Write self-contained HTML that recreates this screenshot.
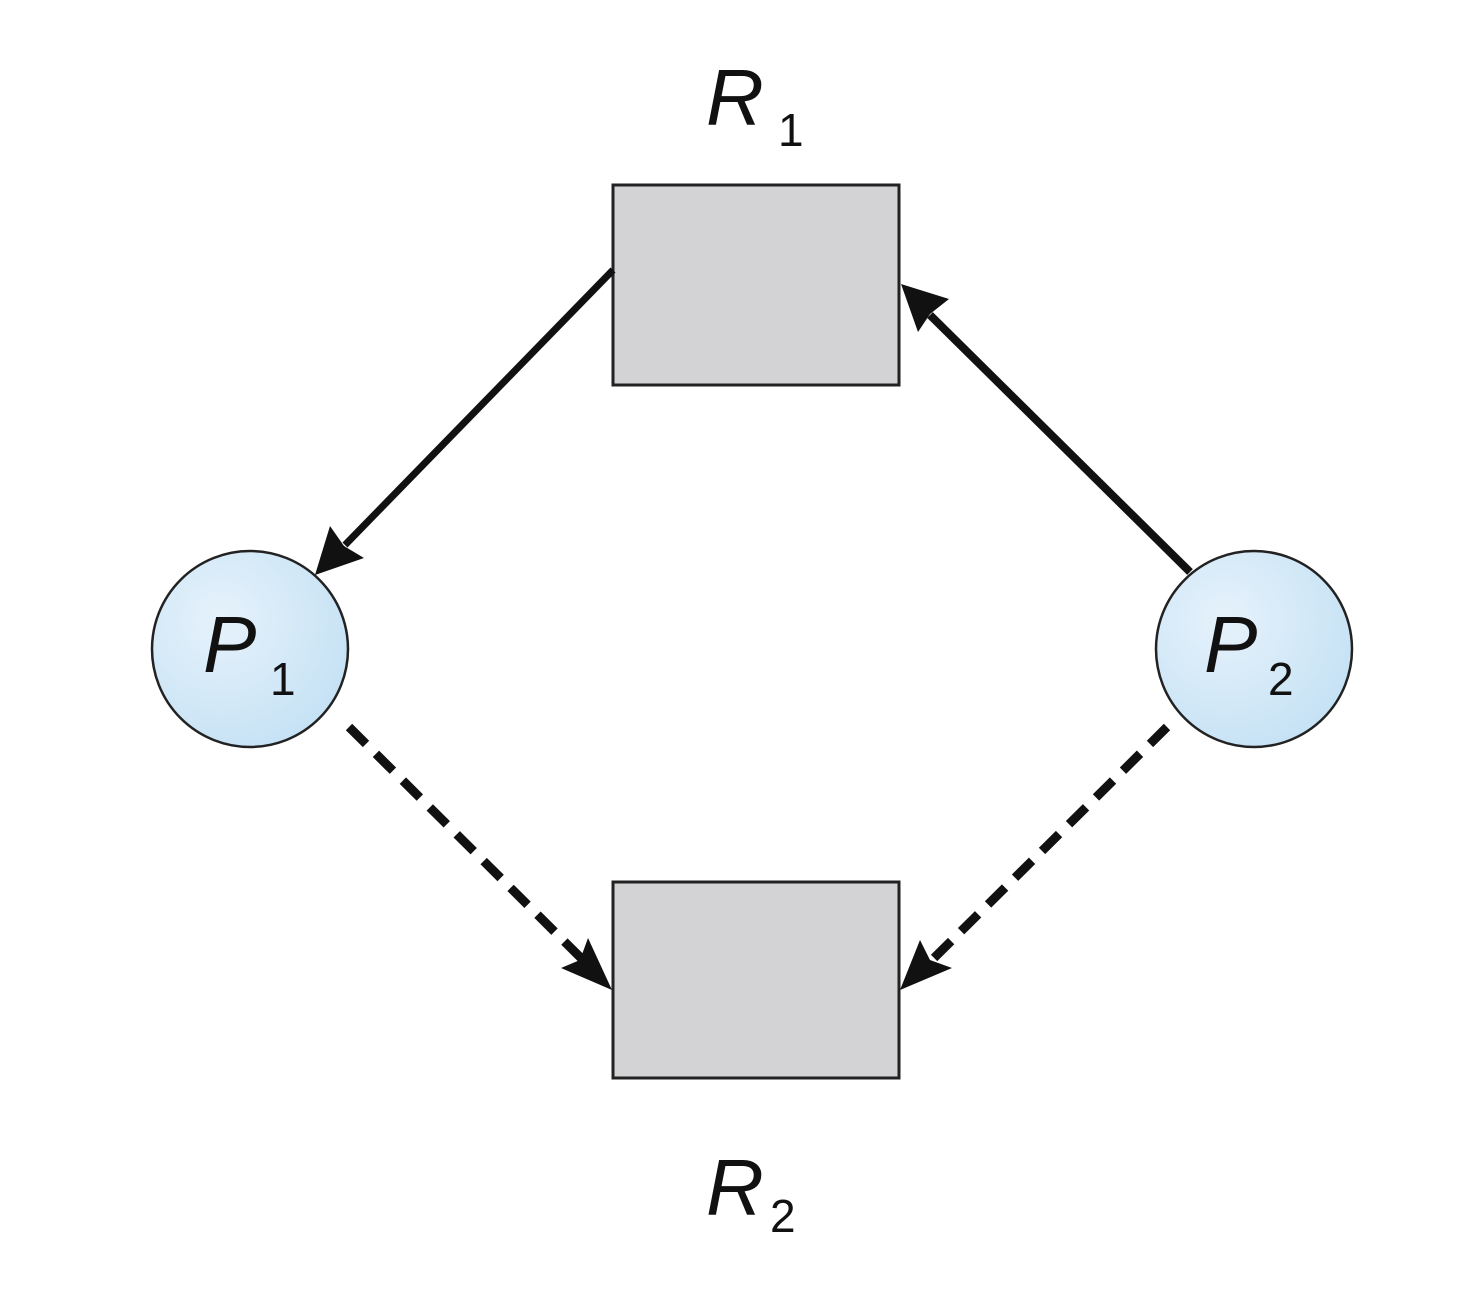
<!DOCTYPE html>
<html><head><meta charset="utf-8"><style>html,body{margin:0;padding:0;background:#fff}svg{display:block}</style></head>
<body>
<svg width="1464" height="1290" viewBox="0 0 1464 1290" xmlns="http://www.w3.org/2000/svg">
<defs>
<radialGradient id="cg" cx="35%" cy="35%" r="70%"><stop offset="0" stop-color="#e6f2fb"/><stop offset="1" stop-color="#c6e2f5"/></radialGradient>
</defs>
<rect x="613" y="185" width="286" height="200" fill="#d3d3d5" stroke="#222" stroke-width="3"/>
<rect x="613" y="882" width="286" height="196" fill="#d3d3d5" stroke="#222" stroke-width="3"/>
<circle cx="250" cy="649" r="98" fill="url(#cg)" stroke="#222" stroke-width="2.5"/>
<circle cx="1254" cy="649" r="98" fill="url(#cg)" stroke="#222" stroke-width="2.5"/>
<line x1="613" y1="270" x2="345" y2="545" stroke="#111" stroke-width="7"/>
<polygon points="315,575 330,526 344,546 364,558" fill="#111"/>
<line x1="1190" y1="572" x2="930" y2="315" stroke="#111" stroke-width="8"/>
<polygon points="901,284 949,299 930,314 918,332" fill="#111"/>
<line x1="349" y1="727" x2="585" y2="962" stroke="#111" stroke-width="9" stroke-dasharray="24,14"/>
<polygon points="612,990 561,968 580,960 588,938" fill="#111"/>
<line x1="1167" y1="727" x2="930" y2="962" stroke="#111" stroke-width="9" stroke-dasharray="24,14"/>
<polygon points="900,990 920,940 930,960 952,968" fill="#111"/>
<g font-family="Liberation Sans, sans-serif" fill="#111">
<text x="706" y="125" font-size="80" font-style="italic">R</text>
<text x="778" y="146" font-size="46">1</text>
<text x="706" y="1215" font-size="80" font-style="italic">R</text>
<text x="770" y="1232" font-size="46">2</text>
<text x="203" y="672" font-size="80" font-style="italic">P</text>
<text x="270" y="695" font-size="46">1</text>
<text x="1204" y="672" font-size="80" font-style="italic">P</text>
<text x="1268" y="695" font-size="46">2</text>
</g>
</svg>
</body></html>
